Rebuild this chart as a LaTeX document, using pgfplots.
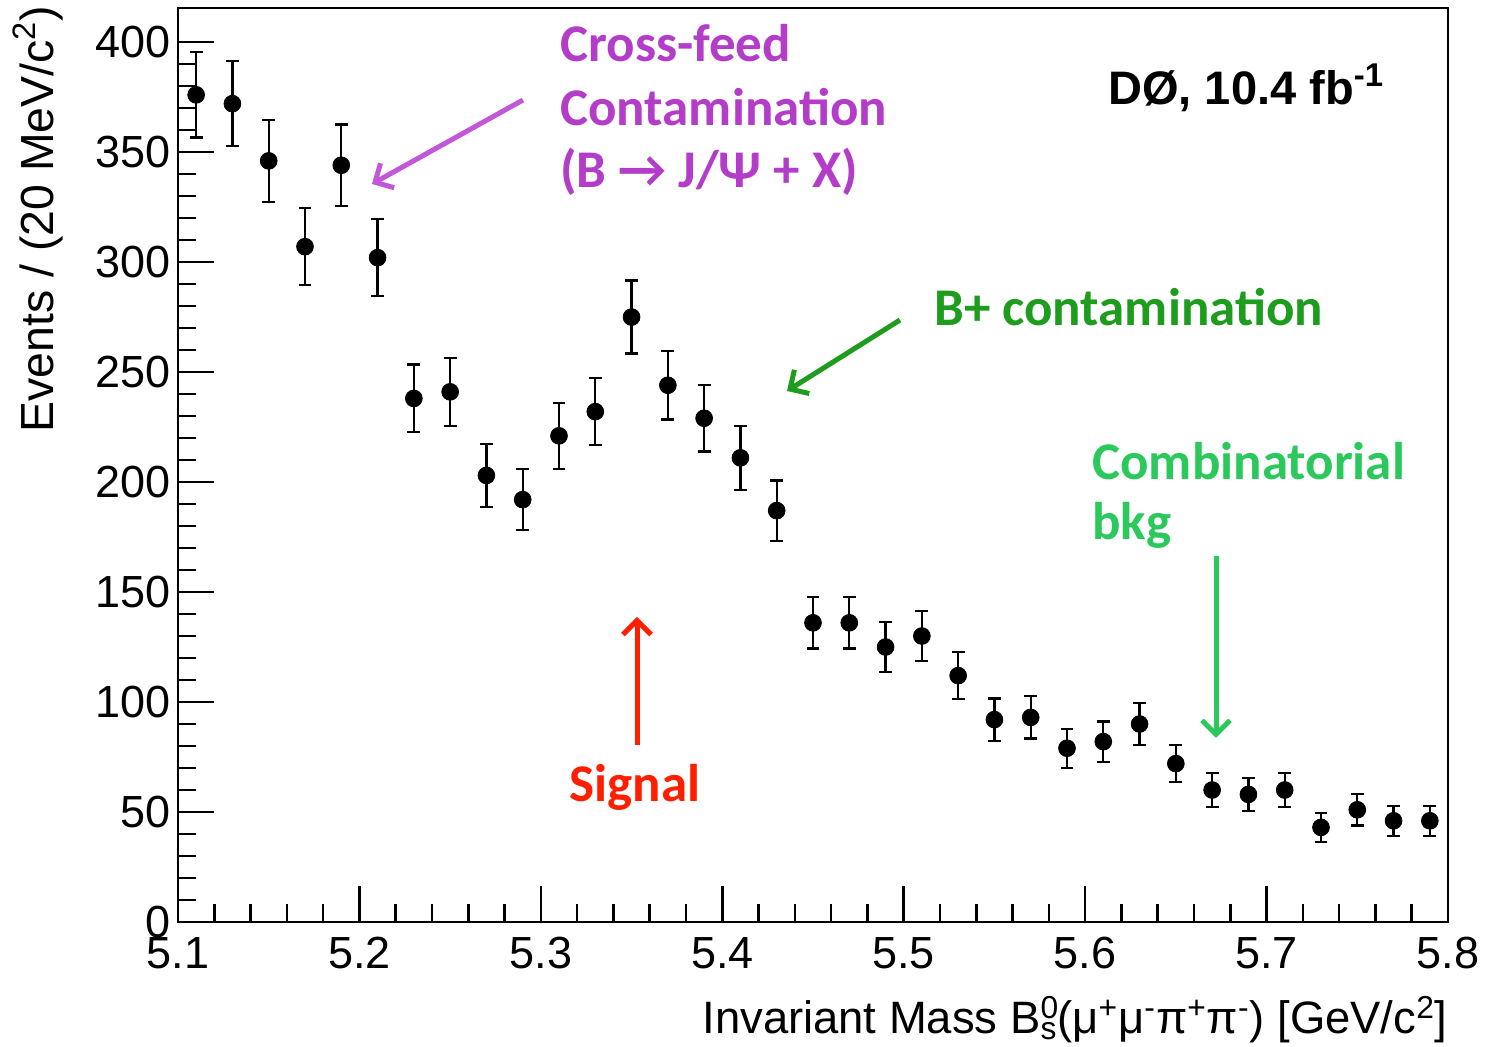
\documentclass[border=0pt]{standalone}
\usepackage{pgfplots}
\pgfplotsset{compat=1.18}
\usetikzlibrary{arrows.meta}
\usepackage{fontspec}
\setmainfont{Liberation Sans}
\newfontfamily\calib{Carlito}
\definecolor{xfeed}{HTML}{B33CC9}
\definecolor{xfeedarrow}{HTML}{C257D7}
\definecolor{bplus}{HTML}{1E9C1E}
\definecolor{combi}{HTML}{2BC85C}
\definecolor{signal}{HTML}{FF1E00}

% mass, events, stat. error
\pgfplotstableread{
x     y    e
5.11  376  19.4
5.13  372  19.3
5.15  346  18.6
5.17  307  17.5
5.19  344  18.5
5.21  302  17.4
5.23  238  15.4
5.25  241  15.5
5.27  203  14.2
5.29  192  13.9
5.31  221  14.9
5.33  232  15.2
5.35  275  16.6
5.37  244  15.6
5.39  229  15.1
5.41  211  14.5
5.43  187  13.7
5.45  136  11.7
5.47  136  11.7
5.49  125  11.2
5.51  130  11.4
5.53  112  10.6
5.55   92   9.6
5.57   93   9.6
5.59   79   8.9
5.61   82   9.1
5.63   90   9.5
5.65   72   8.5
5.67   60   7.7
5.69   58   7.6
5.71   60   7.7
5.73   43   6.6
5.75   51   7.1
5.77   46   6.8
5.79   46   6.8
}\massdata

\tikzset{annot/.style={font=\calib\bfseries\fontsize{26.5}{30}\selectfont, inner sep=0}}

\begin{document}
\begin{tikzpicture}[x=1pt,y=1pt]
\useasboundingbox (0,0) rectangle (744.5,523.5);
\begin{axis}[
  at={(89pt,62.5pt)}, anchor=south west,
  scale only axis, width=635pt, height=457pt,
  xmin=5.1, xmax=5.8, ymin=0, ymax=415.5,
  xtick={5.1,5.2,...,5.8}, ytick={0,50,...,400},
  minor x tick num=4, minor y tick num=4,
  tick pos=left, tick align=inside,
  axis line style={line width=1.4pt},
  every tick/.style={line width=1.3pt, black},
  major tick length=18pt, minor tick length=9pt,
  /pgf/number format/assume math mode=true,
  /pgf/number format/fixed,
  xticklabel style={font=\fontsize{22.5}{26}\selectfont, yshift=-4pt},
  yticklabel style={font=\fontsize{22.5}{26}\selectfont},
  xlabel={Invariant Mass B\rlap{\textsuperscript{0}}\textsubscript{s}(μ\textsuperscript{+}μ\textsuperscript{-}π\textsuperscript{+}π\textsuperscript{-}) [GeV/c\textsuperscript{2}]},
  ylabel={Events / (20 MeV/c\textsuperscript{2})},
  label style={font=\fontsize{23.2}{27}\selectfont},
  xlabel style={at={(axis description cs:1.0,-0.107)}, anchor=east, inner sep=0pt, font=\fontsize{22.7}{27}\selectfont},
  ylabel style={at={(axis description cs:-0.11,1.01)}, anchor=east},
  clip=false,
]
\addplot[black, only marks, mark=*, mark size=4.2pt,
  error bars/.cd, y dir=both, y explicit,
  error bar style={line width=1.1pt, black},
  error mark options={rotate=90, mark size=3.2pt, line width=1.1pt, black}]
  table[x=x, y=y, y error=e] {\massdata};
\end{axis}

% annotations
\node[anchor=west, text=xfeed, annot] at (280,502) {Cross-feed};
\node[anchor=west, text=xfeed, annot] at (280,470) {Contamination};
\node[anchor=west, text=xfeed, annot] at (280,437.5) {(B → J/Ψ + X)};
\draw[xfeedarrow, line width=2.5pt, -{Straight Barb[length=7pt,width=14pt]}] (261.5,473.5) -- (186,431.5);

\node[anchor=west, text=bplus, annot] at (467,370) {B+ contamination};
\draw[bplus, line width=2.5pt, -{Straight Barb[length=7pt,width=14pt]}] (450,363.5) -- (393.5,328);

\node[anchor=west, text=combi, annot] at (546,293) {Combinatorial};
\node[anchor=west, text=combi, annot] at (546,261) {bkg};
\draw[combi, line width=2.5pt, -{Straight Barb[length=7pt,width=14pt]}] (608,245.5) -- (608,154.5);

\node[text=signal, annot] at (317.5,130) {Signal};
\draw[signal, line width=2.5pt, -{Straight Barb[length=7pt,width=14pt]}] (318.5,151) -- (318.5,215);

\node[anchor=west, font=\bfseries\fontsize{23.5}{27}\selectfont, inner sep=0] at (554,479.5) {DØ, 10.4 fb\textsuperscript{-1}};
\end{tikzpicture}
\end{document}
